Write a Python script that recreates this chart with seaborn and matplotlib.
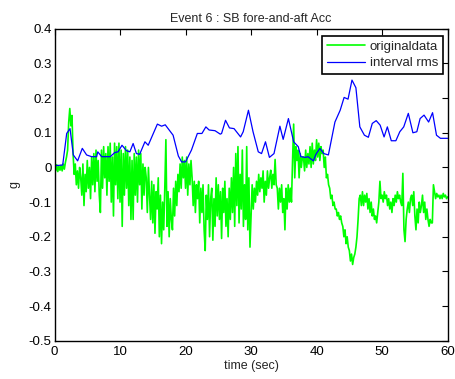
import numpy as np
import pandas as pd
import matplotlib
matplotlib.use("Agg")
import matplotlib.pyplot as plt
import seaborn as sns

# ---- data ----
title = "Event 6 : SB fore-and-aft Acc"
xlabel = "time (sec)"
ylabel = "g"
x_ticks = [0, 10, 20, 30, 40, 50, 60]
y_ticks = [-0.5, -0.4, -0.3, -0.2, -0.1, 0, 0.1, 0.2, 0.3, 0.4]
y_tick_labels = ["-0.5", "-0.4", "-0.3", "-0.2", "-0.1", "0", "0.1", "0.2", "0.3", "0.4"]

samples_per_sec = 6
original_data = [
    0.005, -0.010, 0.008, -0.012, 0.004, -0.008,
    0.006, -0.010, 0.010, -0.005, 0.015, 0.030,
    0.050, 0.130, 0.170, 0.120, 0.150, 0.040,
    -0.020, 0.010, -0.050, -0.010, -0.060, 0.000,
    -0.030, -0.080, 0.010, -0.110, -0.020, -0.070,
    0.020, -0.060, 0.000, -0.090, 0.030, -0.050,
    0.040, -0.070, 0.050, -0.040, 0.020, -0.080,
    -0.130, 0.050, -0.060, 0.060, -0.030, 0.040,
    -0.080, 0.060, -0.040, 0.070, -0.100, 0.030,
    -0.140, 0.070, -0.050, 0.060, -0.090, 0.070,
    -0.100, 0.050, -0.170, 0.040, -0.080, 0.060,
    -0.060, 0.050, -0.110, 0.030, -0.150, 0.020,
    -0.150, 0.040, -0.080, 0.030, -0.100, 0.050,
    -0.050, 0.040, -0.120, 0.010, -0.080, 0.000,
    -0.030, -0.130, 0.000, -0.080, -0.150, -0.040,
    -0.160, -0.050, -0.190, -0.070, -0.120, -0.030,
    -0.200, -0.080, -0.220, -0.100, -0.180, -0.060,
    0.080, -0.170, -0.070, -0.200, -0.090, -0.150,
    -0.180, -0.060, -0.140, -0.040, -0.110, -0.020,
    -0.070, 0.010, -0.060, 0.030, -0.030, 0.020,
    -0.060, 0.030, -0.080, 0.010, -0.050, 0.020,
    -0.030, -0.110, -0.040, -0.130, -0.050, -0.090,
    -0.040, -0.160, -0.060, -0.130, -0.050, -0.180,
    -0.240, -0.080, -0.150, -0.050, -0.200, -0.090,
    -0.060, -0.210, -0.090, -0.170, -0.030, -0.140,
    -0.050, -0.150, -0.070, -0.205, -0.060, -0.130,
    -0.040, -0.170, -0.090, -0.200, -0.060, -0.150,
    -0.030, -0.130, 0.000, -0.170, 0.040, -0.110,
    0.060, -0.160, -0.020, -0.120, 0.050, -0.170,
    -0.050, -0.150, 0.060, -0.180, -0.030, -0.230,
    -0.140, -0.050, -0.120, -0.060, -0.100, -0.040,
    -0.080, -0.020, -0.070, -0.030, -0.060, -0.010,
    -0.100, -0.040, -0.080, -0.010, -0.060, -0.030,
    -0.008, -0.060, -0.020, -0.050, 0.023, -0.050,
    -0.060, -0.120, -0.060, -0.100, -0.050, -0.130,
    -0.090, -0.180, -0.060, -0.120, -0.050, -0.100,
    -0.060, -0.100, 0.020, 0.125, -0.030, 0.060,
    0.020, 0.050, -0.030, 0.040, 0.000, 0.030,
    0.030, -0.010, 0.050, 0.000, 0.040, 0.010,
    0.060, 0.000, 0.070, 0.010, 0.050, 0.020,
    0.080, 0.030, 0.070, 0.020, 0.060, 0.040,
    0.050, 0.000, 0.030, -0.030, -0.020, -0.050,
    -0.060, -0.090, -0.080, -0.110, -0.100, -0.120,
    -0.120, -0.140, -0.130, -0.150, -0.140, -0.160,
    -0.170, -0.200, -0.180, -0.220, -0.200, -0.230,
    -0.240, -0.270, -0.250, -0.280, -0.260, -0.250,
    -0.230, -0.200, -0.150, -0.090, -0.080, -0.110,
    -0.070, -0.110, -0.080, -0.100, -0.075, -0.120,
    -0.090, -0.130, -0.100, -0.140, -0.120, -0.150,
    -0.140, -0.160, -0.130, -0.100, -0.040, -0.090,
    -0.080, -0.100, -0.070, -0.090, -0.080, -0.110,
    -0.090, -0.120, -0.100, -0.130, -0.090, -0.110,
    -0.080, -0.100, -0.070, -0.090, -0.080, -0.100,
    -0.110, -0.017, -0.180, -0.214, -0.150, -0.120,
    -0.100, -0.130, -0.090, -0.080, -0.110, -0.070,
    -0.140, -0.180, -0.120, -0.160, -0.100, -0.130,
    -0.110, -0.080, -0.130, -0.100, -0.150, -0.120,
    -0.150, -0.170, -0.150, -0.160, -0.160, -0.050,
    -0.070, -0.090, -0.075, -0.085, -0.080, -0.090,
    -0.080, -0.090, -0.075, -0.085, -0.080, -0.090,
    -0.085,
]

rms_time = [0, 1.25, 1.86, 2.37, 2.87, 3.53, 4.24, 4.9, 5.67, 6.43, 6.6, 7.2, 8.5,
            9.2, 9.7, 10.3, 11.0, 11.5, 12.0, 12.5, 13.0, 13.8, 14.3, 15.7, 16.35,
            16.9, 18.1, 18.9, 19.4, 20.0, 20.9, 21.8, 22.5, 23.1, 23.6, 24.5, 25.3,
            25.5, 26.1, 26.7, 27.4, 28.4, 28.8, 29.6, 30.3, 31.1, 31.6, 32.2, 32.8,
            33.5, 34.4, 34.9, 35.7, 36.5, 37.2, 37.6, 38.3, 38.7, 39.5, 39.9, 40.5,
            41.1, 41.8, 42.8, 43.6, 44.2, 44.8, 45.4, 46.0, 46.6, 47.3, 47.9, 48.5,
            49.1, 49.7, 50.3, 50.8, 51.4, 52.1, 52.7, 53.3, 54.0, 54.7, 55.3, 55.8,
            56.4, 57.1, 57.7, 58.3, 58.9, 60.0]
rms_value = [0.005, 0.007, 0.098, 0.112, 0.036, 0.019, 0.055, 0.036, 0.031, 0.031,
             0.045, 0.031, 0.031, 0.043, 0.045, 0.064, 0.048, 0.045, 0.069, 0.040,
             0.038, 0.074, 0.064, 0.125, 0.119, 0.123, 0.093, 0.033, 0.016, 0.016,
             0.050, 0.098, 0.098, 0.117, 0.108, 0.106, 0.096, 0.098, 0.136, 0.114,
             0.112, 0.088, 0.103, 0.165, 0.103, 0.045, 0.040, 0.074, 0.029, 0.040,
             0.119, 0.081, 0.141, 0.074, 0.060, 0.031, 0.029, 0.031, 0.019, 0.038,
             0.055, 0.040, 0.036, 0.131, 0.165, 0.202, 0.197, 0.252, 0.230, 0.117,
             0.093, 0.087, 0.127, 0.135, 0.122, 0.088, 0.117, 0.077, 0.077, 0.103,
             0.117, 0.156, 0.100, 0.103, 0.141, 0.151, 0.131, 0.158, 0.093, 0.084,
             0.084]

# ---- plotting ----
sns.set_style("white")
plt.rcParams["font.family"] = ["Liberation Sans", "DejaVu Sans"]

df_orig = pd.DataFrame({
    "t": np.arange(len(original_data)) / samples_per_sec,
    "g": original_data,
})
df_rms = pd.DataFrame({"t": rms_time, "g": rms_value})

fig = plt.figure(figsize=(4.55, 3.79), dpi=100)
ax = fig.add_axes([0.1198, 0.101, 0.864, 0.823])

sns.lineplot(data=df_orig, x="t", y="g", ax=ax, color="#00ff00", lw=1.2,
             label="originaldata", estimator=None)
sns.lineplot(data=df_rms, x="t", y="g", ax=ax, color="#0000ff", lw=0.9,
             label="interval rms", estimator=None)

ax.set_xlim(0, 60)
ax.set_ylim(-0.5, 0.4)
ax.set_xticks(x_ticks)
ax.set_yticks(y_ticks)
ax.set_yticklabels(y_tick_labels)
ax.tick_params(direction="in", length=4, width=0.8, top=True, right=True,
               labelsize=9.5, colors="black", pad=2)
ax.tick_params(axis="x", pad=4)
for s in ax.spines.values():
    s.set_visible(True)
    s.set_color("black")
    s.set_linewidth(1.0)

ax.set_title(title, fontsize=9, pad=5)
ax.set_xlabel(xlabel, fontsize=9, labelpad=1)
ax.set_ylabel(ylabel, fontsize=9, labelpad=6)

leg = ax.legend(loc="upper right", bbox_to_anchor=(0.988, 0.9766),
                borderaxespad=0, fontsize=9.5, handlelength=2.9,
                handletextpad=0.35, labelspacing=0.3, borderpad=0.35,
                fancybox=False, framealpha=1, edgecolor="black")
leg.get_frame().set_linewidth(1.2)

fig.savefig("out.png", dpi=100, facecolor="white")
